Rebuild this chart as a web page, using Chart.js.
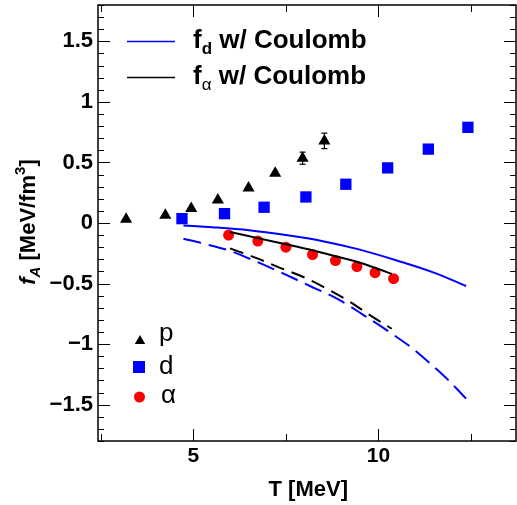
<!DOCTYPE html>
<html>
<head>
<meta charset="utf-8">
<script src="https://cdn.jsdelivr.net/npm/chart.js@4.4.1/dist/chart.umd.min.js"></script>
<style>
  html, body { margin: 0; padding: 0; background: #fff; }
  #wrap { width: 517px; height: 505px; }
</style>
</head>
<body>
<div id="wrap"><canvas id="chart"></canvas></div>
<script>
const BLUE = "#0000ff";
const RED = "#ff0000";
const FONT = "'Liberation Sans', Arial, Helvetica, sans-serif";

// measured points (T in MeV, f_A in MeV/fm^3)
const T_P = [3.18, 4.24, 4.94, 5.66, 6.49, 7.21, 7.95, 8.54];
const F_P = [0.03, 0.064, 0.12, 0.19, 0.29, 0.41, 0.535, 0.678];
const ERR_P = [0, 0, 0, 0, 0, 0, 0.05, 0.064];

const T_D = [4.69, 5.84, 6.91, 8.04, 9.12, 10.25, 11.35, 12.42];
const F_D = [0.036, 0.077, 0.13, 0.215, 0.32, 0.455, 0.61, 0.79];

const T_ALPHA = [5.95, 6.74, 7.5, 8.22, 8.84, 9.42, 9.91, 10.41];
const F_ALPHA = [-0.10, -0.149, -0.20, -0.26, -0.31, -0.36, -0.41, -0.46];

// model curves
const T_FD_COUL = [4.73, 5.5, 6.5, 7.5, 8.5, 9.5, 10.5, 11.5, 12.37];
const FD_COUL = [-0.02, -0.035, -0.06, -0.10, -0.15, -0.22, -0.31, -0.41, -0.52];

const T_FA_COUL = [5.99, 6.74, 7.5, 8.22, 8.84, 9.42, 9.91, 10.36];
const FA_COUL = [-0.074, -0.125, -0.175, -0.225, -0.275, -0.32, -0.37, -0.42];

const T_FD_NOCOUL = [4.73, 5.27, 5.99, 6.71, 7.34, 8.15, 8.88, 9.6, 10.32, 10.9, 11.4, 11.9, 12.37];
const FD_NOCOUL = [-0.13, -0.17, -0.23, -0.32, -0.405, -0.52, -0.625, -0.76, -0.905, -1.03, -1.16, -1.30, -1.45];

const T_FA_NOCOUL = [5.99, 6.71, 7.34, 7.97, 8.69, 9.24, 9.78, 10.36];
const FA_NOCOUL = [-0.21, -0.29, -0.37, -0.446, -0.556, -0.653, -0.763, -0.873];

// axes
const X_LABELED = [5, 10];
const X_MINOR = [2.5, 7.5, 12.5];
const Y_LABELED = [-1.5, -1, -0.5, 0, 0.5, 1, 1.5];

const pts = (xs, ys) => xs.map((x, i) => ({ x, y: ys[i] }));
const fmtTick = (v) => (v < 0 ? "\u2212" : "") + String(Math.abs(v));

function lineSet(xs, ys, color, dash) {
  return {
    data: pts(xs, ys),
    showLine: true,
    borderColor: color,
    borderWidth: 2,
    borderDash: dash,
    pointRadius: 0,
    cubicInterpolationMode: "monotone",
  };
}

function markerSet(xs, ys, color, style, radius) {
  return {
    data: pts(xs, ys),
    showLine: false,
    pointStyle: style,
    pointRadius: radius,
    pointBackgroundColor: color,
    pointBorderColor: color,
    pointBorderWidth: 0,
  };
}

// no extra room for half-labels at the axis ends
function noPad(s) {
  s.paddingLeft = 0; s.paddingRight = 0; s.paddingTop = 0; s.paddingBottom = 0;
}

// draw text pieces one after another (sub/superscripts)
function drawRich(ctx, parts, x, y, align) {
  let total = 0;
  for (const p of parts) {
    ctx.font = p.font;
    total += ctx.measureText(p.t).width;
  }
  let cx = align === "center" ? x - total / 2 : align === "right" ? x - total : x;
  ctx.textAlign = "left";
  ctx.textBaseline = "alphabetic";
  for (const p of parts) {
    ctx.font = p.font;
    ctx.fillText(p.t, cx, y + (p.dy || 0));
    cx += ctx.measureText(p.t).width;
  }
}

const decor = {
  id: "decor",
  afterDraw(chart) {
    const { ctx, chartArea: a, scales: { x, y } } = chart;
    ctx.save();
    ctx.strokeStyle = "#000";
    ctx.fillStyle = "#000";

    // frame
    ctx.lineWidth = 1.5;
    ctx.strokeRect(a.left, a.top, a.right - a.left, a.bottom - a.top);

    // inward ticks on all sides
    ctx.lineWidth = 1;
    const seg = (x1, y1, x2, y2) => {
      ctx.beginPath(); ctx.moveTo(x1, y1); ctx.lineTo(x2, y2); ctx.stroke();
    };
    const xTick = (v, len) => {
      const px = Math.round(x.getPixelForValue(v)) + 0.5;
      seg(px, a.bottom, px, a.bottom - len);
      seg(px, a.top, px, a.top + len);
    };
    X_LABELED.forEach((v) => xTick(v, 12));
    X_MINOR.forEach((v) => xTick(v, 7));
    for (let i = -18; i <= 18; i++) {
      const py = Math.round(y.getPixelForValue(i / 10)) + 0.5;
      const len = i % 5 === 0 ? 12 : 6;
      seg(a.left, py, a.left + len, py);
      seg(a.right, py, a.right - len, py);
    }

    // error bars on p points
    ctx.lineWidth = 1.2;
    T_P.forEach((t, i) => {
      if (!ERR_P[i]) return;
      const px = x.getPixelForValue(t);
      const hi = y.getPixelForValue(F_P[i] + ERR_P[i]);
      const lo = y.getPixelForValue(F_P[i] - ERR_P[i]);
      seg(px, hi, px, lo);
      seg(px - 3, hi, px + 3, hi);
      seg(px - 3, lo, px + 3, lo);
    });

    // top legend
    const bold26 = "bold 26px " + FONT;
    const bold17 = "bold 17px " + FONT;
    ctx.lineWidth = 1.5;
    ctx.strokeStyle = BLUE;
    seg(127, 41.5, 175, 41.5);
    ctx.strokeStyle = "#000";
    seg(127, 77.5, 175, 77.5);
    drawRich(ctx, [
      { t: "f", font: bold26 },
      { t: "d", font: bold17, dy: 6 },
      { t: " w/ Coulomb", font: bold26 },
    ], 193, 48, "left");
    drawRich(ctx, [
      { t: "f", font: bold26 },
      { t: "\u03b1", font: "17px " + FONT, dy: 6 },
      { t: " w/ Coulomb", font: bold26 },
    ], 193, 84, "left");

    // marker legend
    Chart.helpers.drawPoint(ctx, { pointStyle: "triangle", radius: 6, rotation: 0, borderWidth: 0 }, 140, 341);
    ctx.fillStyle = BLUE;
    Chart.helpers.drawPoint(ctx, { pointStyle: "rect", radius: 8.5, rotation: 0, borderWidth: 0 }, 139, 367);
    ctx.fillStyle = RED;
    Chart.helpers.drawPoint(ctx, { pointStyle: "circle", radius: 5.5, rotation: 0, borderWidth: 0 }, 139.5, 397);
    ctx.fillStyle = "#000";
    ctx.font = "26px " + FONT;
    ctx.textAlign = "left";
    ctx.textBaseline = "alphabetic";
    ctx.fillText("p", 159, 341);
    ctx.fillText("d", 159, 374);
    ctx.fillText("\u03b1", 161, 403);

    // axis titles
    drawRich(ctx, [{ t: "T [MeV]", font: "bold 22px " + FONT }], 348, 496, "right");
    ctx.translate(35, 222);
    ctx.rotate(-Math.PI / 2);
    drawRich(ctx, [
      { t: "f", font: "italic bold 22px " + FONT },
      { t: "A", font: "italic bold 15px " + FONT, dy: 5 },
      { t: " [MeV/fm", font: "bold 22px " + FONT },
      { t: "3", font: "bold 15px " + FONT, dy: -10 },
      { t: "]", font: "bold 22px " + FONT },
    ], 0, 0, "center");
    ctx.restore();
  },
};

new Chart(document.getElementById("chart"), {
  type: "scatter",
  data: {
    datasets: [
      lineSet(T_FA_COUL, FA_COUL, "#000", []),
      lineSet(T_FA_NOCOUL, FA_NOCOUL, "#000", [14, 8]),
      lineSet(T_FD_COUL, FD_COUL, BLUE, []),
      lineSet(T_FD_NOCOUL, FD_NOCOUL, BLUE, [18, 8]),
      markerSet(T_P, F_P, "#000", "triangle", 7),
      markerSet(T_D, F_D, BLUE, "rect", 8),
      markerSet(T_ALPHA, F_ALPHA, RED, "circle", 5.5),
    ],
  },
  options: {
    responsive: true,
    maintainAspectRatio: false,
    animation: false,
    layout: { autoPadding: false, padding: { top: 5, right: 1, left: 0, bottom: 0 } },
    plugins: { legend: { display: false }, tooltip: { enabled: false } },
    scales: {
      x: {
        type: "linear",
        min: 2.42,
        max: 13.72,
        grid: { display: false, drawTicks: false },
        border: { display: false },
        afterBuildTicks: (s) => { s.ticks = X_LABELED.map((v) => ({ value: v })); },
        afterFit: (s) => { s.height = 64; noPad(s); },
        ticks: {
          color: "#000",
          padding: 3,
          maxRotation: 0,
          font: { family: FONT, size: 21, weight: "bold" },
          callback: (v) => fmtTick(v),
        },
      },
      y: {
        type: "linear",
        min: -1.8,
        max: 1.8,
        grid: { display: false, drawTicks: false },
        border: { display: false },
        afterBuildTicks: (s) => { s.ticks = Y_LABELED.map((v) => ({ value: v })); },
        afterFit: (s) => { s.width = 98; noPad(s); },
        ticks: {
          color: "#000",
          padding: 5,
          font: { family: FONT, size: 22, weight: "bold" },
          callback: (v) => fmtTick(v),
        },
      },
    },
  },
  plugins: [decor],
});
</script>
</body>
</html>
